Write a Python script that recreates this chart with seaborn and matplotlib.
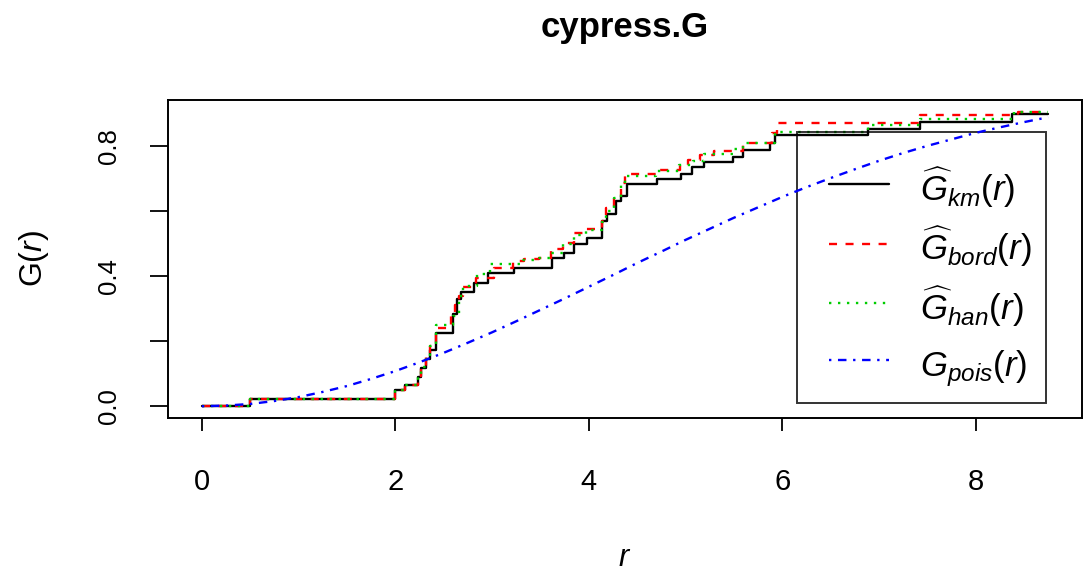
import matplotlib
matplotlib.use("Agg")
import matplotlib.pyplot as plt
from matplotlib.lines import Line2D
from matplotlib.legend_handler import HandlerLine2D
import seaborn as sns
import pandas as pd

# Nearest-neighbour distance distribution estimates for the cypress pattern
r_max = 8.75

km_r = [0, 0.50, 2.00, 2.10, 2.23, 2.27, 2.32, 2.36, 2.42, 2.60, 2.64, 2.68, 2.81, 2.96,
        3.23, 3.62, 3.74, 3.85, 3.98, 4.14, 4.19, 4.28, 4.33, 4.40, 4.71, 4.95, 5.07,
        5.19, 5.49, 5.60, 5.87, 5.93, 6.89, 7.42, 8.38]
km_G = [0, 0.023, 0.051, 0.064, 0.090, 0.118, 0.144, 0.174, 0.224, 0.282, 0.328, 0.351,
        0.380, 0.408, 0.424, 0.455, 0.472, 0.500, 0.517, 0.568, 0.590, 0.631, 0.646,
        0.682, 0.698, 0.715, 0.734, 0.752, 0.767, 0.788, 0.810, 0.833, 0.851, 0.874, 0.898]

bord_r = [0, 0.50, 2.00, 2.10, 2.23, 2.27, 2.32, 2.36, 2.42, 2.58, 2.62, 2.66, 2.70, 2.83,
          3.02, 3.22, 3.33, 3.49, 3.61, 3.73, 3.85, 3.97, 4.14, 4.18, 4.26, 4.33, 4.38,
          4.70, 4.94, 5.03, 5.15, 5.30, 5.60, 5.90, 5.95, 7.43, 8.44]
bord_G = [0, 0.023, 0.051, 0.066, 0.092, 0.120, 0.150, 0.185, 0.240, 0.280, 0.310, 0.340,
          0.367, 0.395, 0.426, 0.446, 0.451, 0.457, 0.484, 0.503, 0.531, 0.546, 0.570,
          0.610, 0.646, 0.687, 0.713, 0.726, 0.742, 0.757, 0.772, 0.785, 0.810, 0.840,
          0.870, 0.894, 0.905]

han_r = [0, 0.50, 2.00, 2.10, 2.23, 2.27, 2.32, 2.36, 2.42, 2.60, 2.66, 2.70, 2.84, 2.98,
         3.30, 3.48, 3.61, 3.73, 3.85, 3.97, 4.14, 4.18, 4.26, 4.33, 4.38, 4.70, 4.93,
         5.08, 5.19, 5.50, 5.60, 5.93, 6.89, 7.42, 8.40]
han_G = [0, 0.023, 0.051, 0.066, 0.092, 0.120, 0.150, 0.185, 0.251, 0.277, 0.340, 0.370,
         0.405, 0.436, 0.449, 0.455, 0.472, 0.498, 0.525, 0.540, 0.565, 0.600, 0.640,
         0.680, 0.708, 0.723, 0.740, 0.754, 0.774, 0.790, 0.808, 0.844, 0.864, 0.882, 0.905]

pois_r = [0, 0.25, 0.5, 0.75, 1.0, 1.25, 1.5, 1.75, 2.0, 2.25, 2.5, 2.75, 3.0, 3.25, 3.5,
          3.75, 4.0, 4.25, 4.5, 4.75, 5.0, 5.25, 5.5, 5.75, 6.0, 6.25, 6.5, 6.75, 7.0,
          7.25, 7.5, 7.75, 8.0, 8.25, 8.5, 8.75]
pois_G = [0, 0.002, 0.007, 0.016, 0.028, 0.044, 0.062, 0.084, 0.108, 0.135, 0.164, 0.195,
          0.227, 0.261, 0.296, 0.331, 0.367, 0.403, 0.440, 0.475, 0.511, 0.545, 0.579,
          0.611, 0.643, 0.673, 0.701, 0.728, 0.754, 0.778, 0.800, 0.820, 0.840, 0.857,
          0.873, 0.888]

x_ticks = [0, 2, 4, 6, 8]
y_ticks = [0.0, 0.2, 0.4, 0.6, 0.8]
y_tick_labels = ["0.0", "", "0.4", "", "0.8"]

labels = [r"$\widehat{G}_{km}(r)$", r"$\widehat{G}_{bord}(r)$",
          r"$\widehat{G}_{han}(r)$", r"$G_{pois}(r)$"]

sns.set_style("white")
plt.rcParams["font.family"] = ["Liberation Sans", "DejaVu Sans"]
plt.rcParams["mathtext.fontset"] = "custom"
plt.rcParams["mathtext.rm"] = "Liberation Sans"
plt.rcParams["mathtext.it"] = "Liberation Sans:italic"
plt.rcParams["mathtext.bf"] = "Liberation Sans:bold"
for key in ["text.color", "axes.labelcolor", "xtick.color", "ytick.color",
            "axes.edgecolor"]:
    plt.rcParams[key] = "black"


def step_frame(r, g):
    # extend the last step out to the largest distance evaluated
    return pd.DataFrame({"r": list(r) + [r_max], "G": list(g) + [g[-1]]})


fig = plt.figure(figsize=(10.84, 5.75), dpi=100)
ax = fig.add_axes([168 / 1084, 1 - 418 / 575, 914 / 1084, 318 / 575])

lw = 1.7
sns.lineplot(data=step_frame(km_r, km_G), x="r", y="G", ax=ax, color="black",
             lw=lw, drawstyle="steps-post", estimator=None, label=labels[0], zorder=3)
sns.lineplot(data=step_frame(bord_r, bord_G), x="r", y="G", ax=ax, color="#FF0000",
             lw=lw, linestyle=(0, (3.4, 3.6)), drawstyle="steps-post",
             estimator=None, label=labels[1], zorder=4)
sns.lineplot(data=step_frame(han_r, han_G), x="r", y="G", ax=ax, color="#00CD00",
             lw=lw, linestyle=(0, (1.0, 2.8)), drawstyle="steps-post",
             estimator=None, label=labels[2], zorder=5)
sns.lineplot(data=pd.DataFrame({"r": pois_r, "G": pois_G}), x="r", y="G", ax=ax,
             color="#0000FF", lw=lw, linestyle=(0, (1.0, 2.8, 3.6, 2.8)),
             estimator=None, label=labels[3], zorder=6)

ax.set_xlim(-0.35, 9.10)
ax.set_ylim(-0.0362, 0.941)
ax.set_xticks(x_ticks)
ax.set_xticklabels([str(t) for t in x_ticks])
ax.set_yticks(y_ticks)
ax.set_yticklabels(y_tick_labels, rotation=90, va="center")

for s in ax.spines.values():
    s.set_visible(True)
    s.set_color("black")
    s.set_linewidth(1.4)

ax.tick_params(axis="x", direction="out", length=9, width=1.3, pad=27,
               labelsize=21, bottom=True, colors="black")
ax.tick_params(axis="y", direction="out", length=13, width=1.3, pad=21,
               labelsize=18.5, left=True, colors="black")

ax.set_xlabel(r"$r$", fontsize=22, labelpad=34)
ax.set_ylabel(r"$\mathrm{G}(r)$", fontsize=23, labelpad=33)

fig.text(625 / 1084, 1 - 27 / 575, "cypress.G", ha="center", va="center",
         fontsize=25, fontweight="bold")

handles, _ = ax.get_legend_handles_labels()
# a tiny blank title gives the box extra room above the first entry;
# the handler's xpad leaves a wider margin left of the sample lines
leg = ax.legend(handles, labels, loc="upper right",
                bbox_to_anchor=((1046 - 168) / 914, (418 - 132) / 318),
                borderaxespad=0, fontsize=25, handlelength=2.25, handleheight=1.6,
                handletextpad=0.9, labelspacing=0.36, borderpad=0.4,
                title=" ", title_fontsize=5,
                handler_map={Line2D: HandlerLine2D(xpad=0.52)},
                fancybox=False, frameon=True)
frame = leg.get_frame()
frame.set_edgecolor("black")
frame.set_facecolor("none")
frame.set_linewidth(1.4)

fig.savefig("out.png", dpi=100, facecolor="white")
